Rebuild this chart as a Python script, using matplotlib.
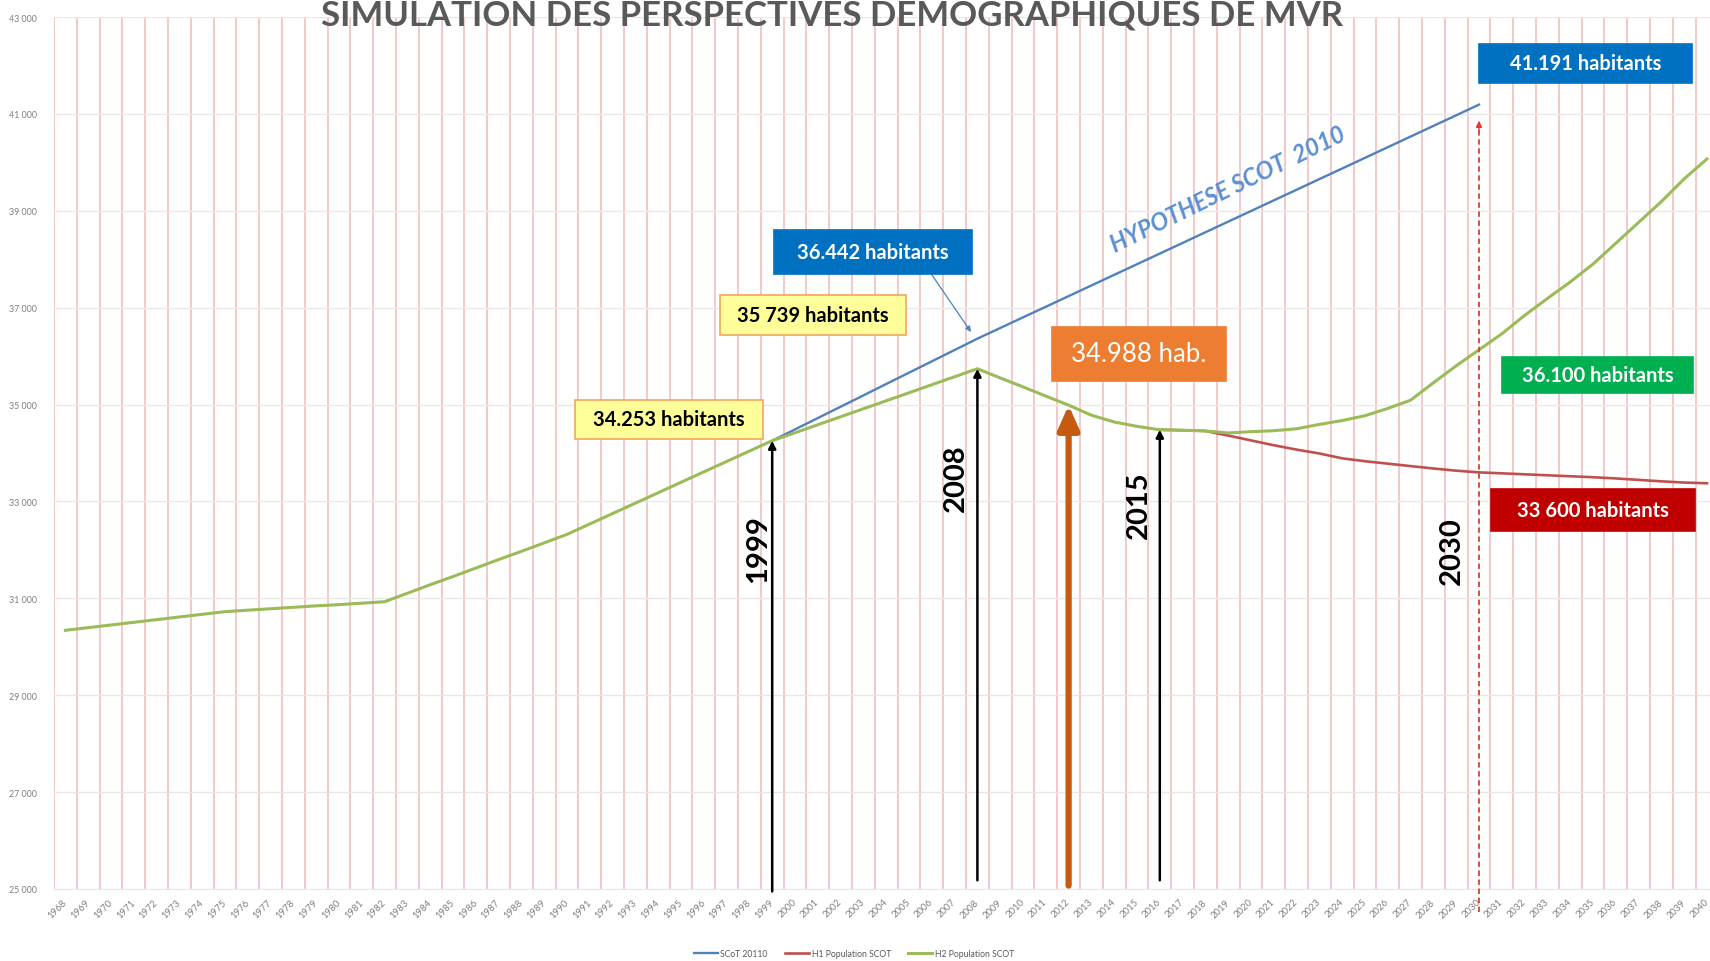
import matplotlib
matplotlib.use("Agg")
import matplotlib.pyplot as plt
from matplotlib.patches import Rectangle, FancyArrowPatch

W, H = 1710, 962
plt.rcParams['font.family'] = ['Lato', 'DejaVu Sans']

# ---------------- data ----------------
years = list(range(1968, 2041))
h2_population = [
    30340, 30395, 30450, 30505, 30560, 30615, 30670, 30725, 30755, 30785,   # 1968-1977
    30815, 30845, 30870, 30900, 30930, 31105, 31280, 31450, 31625, 31800,   # 1978-1987
    31970, 32145, 32320, 32535, 32750, 32965, 33180, 33395, 33610, 33825,   # 1988-1997
    34040, 34253, 34418, 34583, 34748, 34913, 35078, 35243, 35409, 35574,   # 1998-2007
    35739, 35550, 35365, 35175, 34988, 34780, 34640, 34550, 34480, 34470,   # 2008-2017
    34455, 34414, 34440, 34460, 34500, 34590, 34670, 34770, 34920, 35090,   # 2018-2027
    35450, 35800, 36130, 36460, 36840, 37190, 37530, 37900, 38330, 38760,   # 2028-2037
    39190, 39660, 40070,                                                    # 2038-2040
]
scot_years = list(range(1999, 2031))
scot_population = [
    34253, 34487, 34721, 34955, 35189, 35424, 35658, 35892, 36126, 36360,   # 1999-2008
    36580, 36800, 37019, 37238, 37458, 37678, 37897, 38117, 38336, 38556,   # 2009-2018
    38776, 38995, 39215, 39434, 39654, 39873, 40093, 40313, 40532, 40752,   # 2019-2028
    40971, 41191,                                                           # 2029-2030
]
h1_years = list(range(2016, 2041))
h1_population = [
    34480, 34470, 34455, 34360, 34260, 34160, 34070, 33990, 33890, 33830,   # 2016-2025
    33780, 33730, 33680, 33635, 33600, 33580, 33560, 33540, 33520, 33500,   # 2026-2035
    33475, 33445, 33415, 33390, 33375,                                      # 2036-2040
]
y_ticks = list(range(25000, 43001, 2000))
series_labels = ["SCoT 20110", "H1 Population SCOT", "H2 Population SCOT"]
marked_years = [1999, 2008, 2016]
marked_labels = ["1999", "2008", "2015"]
orange_year = 2012
horizon_year = 2030
title = "SIMULATION DES PERSPECTIVES DEMOGRAPHIQUES DE MVR"

# ---------------- figure ----------------
fig = plt.figure(figsize=(W / 100, H / 100), dpi=100)
fig.patch.set_facecolor("white")
ax = fig.add_axes([54 / W, 1 - 890 / H, 1664.4 / W, 872 / H])

ax.set_xlim(years[0] - 0.5, years[-1] + 0.5)
ax.set_ylim(25000, 43000)

# category boundaries as pink vertical gridlines
ax.set_xticks([y - 0.5 for y in years] + [years[-1] + 0.5], minor=True)
ax.set_xticks(years)
ax.set_xticklabels([str(y) for y in years], rotation=45, ha="right",
                   va="center", rotation_mode="anchor", fontsize=6.8, color="#7f7f7f")
ax.grid(which="minor", axis="x", color="#f0c0c0", lw=1.2)
ax.set_yticks(y_ticks)
ax.set_yticklabels([f"{v:,}".replace(",", " ") for v in y_ticks], fontsize=6.4, color="#7f7f7f")
ax.grid(which="major", axis="y", color="#e8e8e8", lw=1.0)
ax.tick_params(which="both", length=0)
ax.tick_params(axis="x", pad=8)
ax.tick_params(axis="y", pad=12)
for s in ["top", "right", "left"]:
    ax.spines[s].set_visible(False)
ax.spines["bottom"].set_color("#e8e8e8")
ax.set_axisbelow(True)

l_scot, = ax.plot(scot_years, scot_population, color="#4F81BD", lw=1.7, zorder=3,
                  label=series_labels[0])
l_h1, = ax.plot(h1_years, h1_population, color="#C0504D", lw=1.9, zorder=3.1,
                label=series_labels[1])
l_h2, = ax.plot(years, h2_population, color="#9BBB59", lw=2.2, zorder=3.2,
                label=series_labels[2])

fig.legend(handles=[l_scot, l_h1, l_h2], loc="center", bbox_to_anchor=(854 / W, 1 - 955 / H),
           ncol=3, frameon=False, fontsize=6.2, labelcolor="#595959", handlelength=2.8,
           columnspacing=2.0, handletextpad=0.3)

# title
fig.text(832 / W, 1 - 26 / H, title, ha="center", va="baseline", fontsize=25,
         fontweight="bold", color="#595959")

# ---------------- annotations ----------------
def h2_at(y):
    return h2_population[years.index(y)]

def px(x, y):
    return (x / W, 1 - y / H)

def box(x0, y0, x1, y1, fc, ec, text, tc, size, weight="bold"):
    fig.patches.append(Rectangle(px(x0, y1), (x1 - x0) / W, (y1 - y0) / H,
                                 transform=fig.transFigure, facecolor=fc,
                                 edgecolor=ec, lw=1.2, zorder=5))
    fig.text((x0 + x1) / 2 / W, 1 - (y0 + y1) / 2 / H, text, ha="center", va="center",
             color=tc, fontsize=size, fontweight=weight, zorder=6)

# black arrows with rotated year labels
arrow_bottoms = [24950, 25180, 25180]
label_pos = [(758, 549), (956, 478), (1139, 505)]
for yr, lab, yb, (lx, ly) in zip(marked_years, marked_labels, arrow_bottoms, label_pos):
    ax.annotate("", xy=(yr, h2_at(yr)), xytext=(yr, yb),
                arrowprops=dict(arrowstyle="-|>", color="black", lw=1.8,
                                mutation_scale=11, shrinkA=0, shrinkB=0),
                annotation_clip=False, zorder=4)
    fig.text(lx / W, 1 - ly / H, lab, rotation=90, ha="center", va="center",
             fontsize=21, fontweight="bold", color="black")

# orange thick arrow
ax.annotate("", xy=(orange_year, h2_at(orange_year)), xytext=(orange_year, 25070),
            arrowprops=dict(arrowstyle="-|>,head_width=0.4,head_length=0.9", color="#C55A11",
                            lw=4.5, mutation_scale=16, shrinkA=0, shrinkB=0),
            annotation_clip=False, zorder=4)

# 2030 dashed red line with arrow head
ax.plot([horizon_year, horizon_year], [24525, 40700], ls=(0, (3, 2)), color="#E03C31",
        lw=1.3, clip_on=False, zorder=4)
ax.annotate("", xy=(horizon_year, 40860), xytext=(horizon_year, 40650),
            arrowprops=dict(arrowstyle="-|>", color="#E03C31", lw=1.0,
                            mutation_scale=9, shrinkA=0, shrinkB=0), zorder=4)
fig.text(1452 / W, 1 - 551 / H, "2030", rotation=90, ha="center", va="center",
         fontsize=21, fontweight="bold", color="black")

# label boxes
box(1479, 45, 1692, 84, "#0070C0", "#0070C0", "41.191 habitants", "white", 14.5)
box(774, 231, 972, 275, "#0070C0", "#0070C0", "36.442 habitants", "white", 14.5)
box(720, 296, 906, 336, "#FFFF99", "#F4A460", "35 739 habitants", "black", 14.5)
box(575, 401, 763, 440, "#FFFF99", "#F4A460", "34.253 habitants", "black", 14.5)
box(1052, 328, 1226, 382, "#ED7D31", "#ED7D31", "34.988 hab.", "white", 18.5, weight="normal")
box(1502, 358, 1693, 394, "#00B050", "#00B050", "36.100 habitants", "white", 14.5)
box(1491, 490, 1695, 532, "#C00000", "#C00000", "33 600 habitants", "white", 14.5)

# thin blue pointer from 36.442 box to the SCoT line
fig.add_artist(FancyArrowPatch(px(932, 276), px(971, 333), transform=fig.transFigure,
                               arrowstyle="-|>", mutation_scale=8, color="#4F81BD",
                               lw=0.9, shrinkA=0, shrinkB=0))

# hypothesis text along the SCoT line
fig.text(1228 / W, 1 - 190 / H, "HYPOTHESE SCOT  2010", rotation=26, ha="center",
         va="center", rotation_mode="anchor", fontsize=17, fontweight="bold",
         fontstyle="italic", color="#5B8FD4")

fig.savefig("out.png", dpi=100, facecolor="white")
